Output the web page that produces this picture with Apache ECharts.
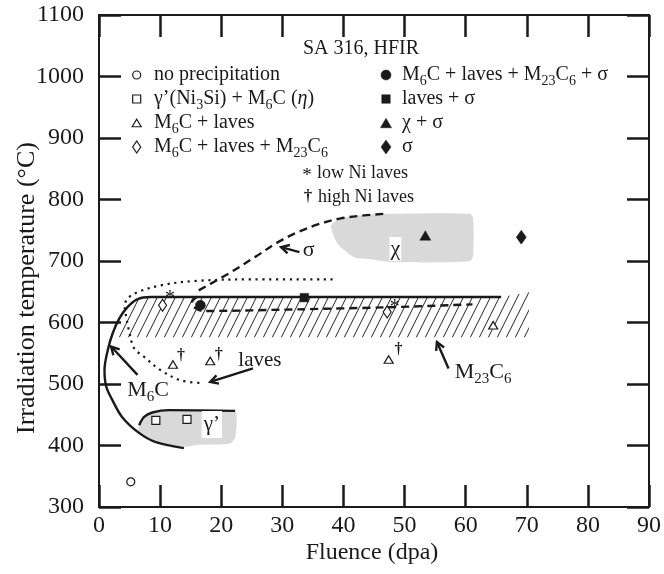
<!DOCTYPE html>
<html>
<head>
<meta charset="utf-8">
<script src="https://cdn.jsdelivr.net/npm/echarts@6/dist/echarts.min.js"></script>
<style>
  html, body { margin: 0; padding: 0; background: #fff; }
  #chart { width: 664px; height: 574px; }
</style>
</head>
<body>
<div id="chart"></div>
<script>
const FONT = "'Liberation Serif', 'Times New Roman', serif";
const INK = '#1a1a1a';

// axes
const fluenceRange = [0, 90];
const fluenceStep = 10;
const tempRange = [300, 1100];
const tempStep = 100;

// observed precipitate phases: [fluence (dpa), irradiation temperature (°C)]
const noPrecipitation = [[5.2, 341]];
const gammaPrimeM6C = [[9.3, 441], [14.4, 442.4]];
const m6cLaves = [[12.1, 531.7], [18.2, 537.5], [47.4, 539.8], [64.5, 595.5]];
const m6cLavesM23C6 = [[10.4, 628], [47.15, 617]];
const m6cLavesM23C6Sigma = [[16.6, 628]];
const lavesSigma = [[33.6, 640.4]];
const chiSigma = [[53.4, 741.6]];
const sigmaOnly = [[69.1, 738.8]];

// laves composition flags
const lowNiLaves = [[11.6, 644], [48.4, 629]];
const highNiLaves = [[13.4, 545.6], [19.6, 546.8], [49.0, 554.9]];

// phase boundaries
const m6cBoundary = [[13.9, 395.8], [9.3, 405.5], [6.6, 420.1], [3.8, 446.1], [2.2, 473.7],
  [1.17, 496.4], [0.9, 522.4], [1.43, 554.9], [2.24, 582.5], [3.33, 606.8], [4.63, 624.7],
  [6.25, 637.7], [8.47, 641.4], [65.8, 641.4]];
const gammaPrimeBoundary = [[6.57, 433.1], [7.39, 446.6], [8.73, 453.7], [11.46, 457.5], [22.27, 456.3]];
const sigmaBoundary = [[16.31, 652.3], [21.18, 679.4], [25.52, 706.3], [29.3, 730.7], [32.54, 746.9],
  [35.79, 759.4], [39.52, 769.2], [43.37, 774.1], [46.88, 776.8]];
const m23c6Boundary = [[16.04, 641.4], [15.22, 633.3], [15.5, 625.2], [17.12, 618.7], [32.54, 621.4],
  [47.15, 624.7], [61.11, 629.5]];
const lavesBoundary = [[38.23, 670.1], [25.24, 670.1], [15.5, 667.4], [10.1, 660.4], [6.25, 649],
  [4.63, 638.5], [4.22, 625.6], [4.43, 610.6], [4.93, 585.7], [5.73, 558.4], [7.39, 544],
  [10.1, 522.4], [13.34, 506.2], [17.12, 501.3]];

// shaded fields
const chiField = [[38.23, 761.5], [39.57, 768.7], [42.28, 774.0], [47.96, 776.8], [60.67, 776.8],
  [61.22, 768.7], [61.22, 709.1], [60.67, 699.4], [48.24, 698.2], [43.91, 703.7], [41.75, 706.3],
  [39.04, 728.1], [37.95, 755.2]];
const gammaPrimeField = [[6.57, 433.1], [7.39, 446.6], [8.73, 453.7], [11.46, 457.5], [22.27, 456.3],
  [22.53, 440.3], [22.27, 413.2], [21.46, 403.4], [16.31, 401.3], [13.88, 398.1], [9.33, 405.5],
  [6.57, 420.1]];
const m23c6Field = [[8.47, 641.4], [65.8, 641.4], [70.36, 649], [70.36, 576], [2.27, 576],
  [2.24, 582.5], [3.33, 606.8], [4.63, 624.7], [6.25, 637.7]];

// callout arrows: [tail fluence, tail temp, head fluence, head temp]
const callouts = [
  [32.8, 714.4, 29.8, 722.6],
  [25.2, 525.5, 18.2, 503.4],
  [6.3, 514.8, 1.98, 560.9],
  [57.2, 525.2, 55.3, 568.4]
];

// field label anchors
const sigmaLabelAt = [34.3, 717];
const lavesLabelAt = [22.8, 538.6];
const m6cLabelAt = [4.63, 490.3];
const m23c6LabelAt = [58.2, 519.6];
const chiLabelAt = [48.5, 719.6];
const gammaPrimeLabelAt = [18.47, 434.1];

// ---------- text helpers ----------
function richStyles(size) {
  return {
    n: { fontFamily: FONT, fontSize: size, fill: INK },
    sub: { fontFamily: FONT, fontSize: Math.round(size * 0.7), fill: INK, padding: [Math.round(size * 0.65), 0, 0, 0] },
    it: { fontFamily: FONT, fontSize: size, fontStyle: 'italic', fill: INK }
  };
}

function hatchPattern() {
  const c = document.createElement('canvas');
  c.width = 9; c.height = 18;
  const g = c.getContext('2d');
  g.strokeStyle = '#262626';
  g.lineWidth = 1;
  for (let k = -1; k <= 1; k++) {
    g.beginPath();
    g.moveTo(k * 9, 18);
    g.lineTo(k * 9 + 9, 0);
    g.stroke();
  }
  return c;
}

function fieldSeries(points, fill, smooth, z) {
  return {
    type: 'custom', silent: true, z: z, data: points,
    renderItem: function (params, api) {
      if (params.dataIndex !== 0) return null;
      return {
        type: 'polygon',
        shape: { points: points.map(function (p) { return api.coord(p); }), smooth: smooth },
        style: { fill: fill, stroke: null }
      };
    }
  };
}

function curveSeries(points, type, width, smooth) {
  return {
    type: 'line', data: points, symbol: 'none', smooth: smooth, silent: true, z: 4,
    lineStyle: { color: INK, width: width, type: type, cap: 'butt' }
  };
}

function markerSeries(points, symbol, size, filled) {
  return {
    type: 'scatter', data: points, symbol: symbol, symbolSize: size, silent: true, z: 6,
    itemStyle: filled
      ? { color: INK, borderColor: INK, borderWidth: 0.5, opacity: 1 }
      : { color: '#fff', borderColor: INK, borderWidth: 1.2, opacity: 1 }
  };
}

function textSeries(at, text, size, align, extra) {
  return {
    type: 'custom', silent: true, z: 7, data: [at],
    renderItem: function (params, api) {
      const p = api.coord(at);
      return {
        type: 'text', x: p[0], y: p[1],
        style: Object.assign({
          text: text, rich: richStyles(size), fontFamily: FONT, fontSize: size,
          fill: INK, align: align, verticalAlign: 'middle'
        }, extra || {})
      };
    }
  };
}

function flagSeries(points, glyph, size, dx, dy, weight) {
  return {
    type: 'custom', silent: true, z: 7, data: points,
    renderItem: function (params, api) {
      const p = api.coord([api.value(0), api.value(1)]);
      return {
        type: 'text', x: p[0] + dx, y: p[1] + dy,
        style: { text: glyph, fontFamily: FONT, fontSize: size, fontWeight: weight,
          fill: INK, align: 'center', verticalAlign: 'middle' }
      };
    }
  };
}

const arrowSeries = {
  type: 'custom', silent: true, z: 5, data: callouts,
  encode: { x: [0, 2], y: [1, 3] },
  renderItem: function (params, api) {
    const a = api.coord([api.value(0), api.value(1)]);
    const b = api.coord([api.value(2), api.value(3)]);
    const ang = Math.atan2(b[1] - a[1], b[0] - a[0]);
    const L = 9, spread = 0.5;
    const h1 = [b[0] - L * Math.cos(ang - spread), b[1] - L * Math.sin(ang - spread)];
    const h2 = [b[0] - L * Math.cos(ang + spread), b[1] - L * Math.sin(ang + spread)];
    return {
      type: 'group',
      children: [
        { type: 'line', shape: { x1: a[0], y1: a[1], x2: b[0], y2: b[1] },
          style: { stroke: INK, lineWidth: 2.4 } },
        { type: 'polyline', shape: { points: [h1, b, h2] },
          style: { stroke: INK, lineWidth: 2.4, fill: null, lineJoin: 'miter' } }
      ]
    };
  }
};

// ---------- legend (drawn as graphics) ----------
function legendSymbol(kind, filled, cx, cy, w, h) {
  const style = filled
    ? { fill: INK, stroke: INK, lineWidth: 0.5 }
    : { fill: '#fff', stroke: INK, lineWidth: 1.2 };
  if (kind === 'circle') return { type: 'circle', shape: { cx: cx, cy: cy, r: w / 2 }, style: style };
  if (kind === 'rect') return { type: 'rect', shape: { x: cx - w / 2, y: cy - h / 2, width: w, height: h }, style: style };
  if (kind === 'triangle') return { type: 'polygon', shape: { points: [[cx, cy - h / 2], [cx + w / 2, cy + h / 2], [cx - w / 2, cy + h / 2]] }, style: style };
  return { type: 'polygon', shape: { points: [[cx, cy - h / 2], [cx + w / 2, cy], [cx, cy + h / 2], [cx - w / 2, cy]] }, style: style };
}

function legendText(x, y, text, size) {
  return {
    type: 'text', x: x, y: y,
    style: { text: text, rich: richStyles(size), fontFamily: FONT, fontSize: size, fill: INK,
      align: 'left', verticalAlign: 'middle' }
  };
}

const legendRows = [75, 99, 123, 147];
const legendLeft = [
  ['circle', false, 8, 8, 'no precipitation'],
  ['rect', false, 8, 8, 'γ’(Ni{sub|3}Si) + M{sub|6}C ({it|η})'],
  ['triangle', false, 9, 7.5, 'M{sub|6}C + laves'],
  ['diamond', false, 8, 12, 'M{sub|6}C + laves + M{sub|23}C{sub|6}']
];
const legendRight = [
  ['circle', true, 10, 10, 'M{sub|6}C + laves + M{sub|23}C{sub|6} + σ'],
  ['rect', true, 8.5, 8.5, 'laves + σ'],
  ['triangle', true, 11, 9.5, 'χ + σ'],
  ['diamond', true, 10, 14, 'σ']
];

const graphics = [];
legendLeft.forEach(function (r, i) {
  graphics.push(legendSymbol(r[0], r[1], 136.7, legendRows[i], r[2], r[3]));
  graphics.push(legendText(154, legendRows[i], r[4], 20));
});
legendRight.forEach(function (r, i) {
  graphics.push(legendSymbol(r[0], r[1], 386, legendRows[i], r[2], r[3]));
  graphics.push(legendText(402, legendRows[i], r[4], 20));
});
graphics.push({ type: 'text', x: 307, y: 176, style: { text: '*', fontFamily: FONT, fontSize: 19, fill: INK, align: 'center', verticalAlign: 'middle' } });
graphics.push(legendText(317, 173, 'low Ni laves', 18));
graphics.push({ type: 'text', x: 308, y: 197, style: { text: '†', fontFamily: FONT, fontSize: 17, fontWeight: 'bold', fill: INK, align: 'center', verticalAlign: 'middle' } });
graphics.push(legendText(318, 197, 'high Ni laves', 18));

// title and axis names
graphics.push({ type: 'text', x: 361, y: 49, style: { text: 'SA 316, HFIR', fontFamily: FONT, fontSize: 20, fill: INK, align: 'center', verticalAlign: 'middle' } });
graphics.push({ type: 'text', x: 372, y: 553, style: { text: 'Fluence (dpa)', fontFamily: FONT, fontSize: 24, fill: INK, align: 'center', verticalAlign: 'middle' } });
graphics.push({ type: 'text', x: 27, y: 288, rotation: Math.PI / 2, style: { text: 'Irradiation temperature (°C)', fontFamily: FONT, fontSize: 26, fill: INK, align: 'center', verticalAlign: 'middle' } });

// ---------- axes ----------
function axis(extra, labelOpts) {
  return Object.assign({
    type: 'value',
    axisLine: { show: true, onZero: false, lineStyle: { color: INK, width: 2 } },
    axisTick: { show: true, inside: true, length: 22, lineStyle: { color: INK, width: 2.5 } },
    splitLine: { show: false },
    axisLabel: Object.assign({ fontFamily: FONT, fontSize: 24, color: INK,
      formatter: function (v) { return String(v); } }, labelOpts)
  }, extra);
}

const option = {
  animation: false,
  textStyle: { fontFamily: FONT },
  grid: { left: 99, right: 10, top: 15, bottom: 67 },
  xAxis: [
    axis({ min: fluenceRange[0], max: fluenceRange[1], interval: fluenceStep, position: 'bottom' }, { margin: 7 }),
    axis({ min: fluenceRange[0], max: fluenceRange[1], interval: fluenceStep, position: 'top' }, { show: false })
  ],
  yAxis: [
    axis({ min: tempRange[0], max: tempRange[1], interval: tempStep, position: 'left' }, { margin: 15 }),
    axis({ min: tempRange[0], max: tempRange[1], interval: tempStep, position: 'right' }, { show: false })
  ],
  graphic: graphics,
  series: [
    fieldSeries(m23c6Field, { image: hatchPattern(), repeat: 'repeat' }, 0, 1),
    fieldSeries(chiField, '#d9d9d9', 0.25, 2),
    fieldSeries(gammaPrimeField, '#d9d9d9', 0.25, 2),
    curveSeries(m6cBoundary, 'solid', 2.4, 0.35),
    curveSeries(gammaPrimeBoundary, 'solid', 2.4, 0.35),
    curveSeries(sigmaBoundary, [8, 5], 2.4, 0.35),
    curveSeries(m23c6Boundary, [8, 5], 2.4, 0.3),
    curveSeries(lavesBoundary, [2.2, 4.6], 2.2, 0.35),
    arrowSeries,
    markerSeries(noPrecipitation, 'circle', 8, false),
    markerSeries(gammaPrimeM6C, 'rect', 8, false),
    markerSeries(m6cLaves, 'triangle', [9, 7.5], false),
    markerSeries(m6cLavesM23C6, 'diamond', [8, 12], false),
    markerSeries(m6cLavesM23C6Sigma, 'circle', 10, true),
    markerSeries(lavesSigma, 'rect', 8.5, true),
    markerSeries(chiSigma, 'triangle', [11, 9.5], true),
    markerSeries(sigmaOnly, 'diamond', [10, 14], true),
    flagSeries(lowNiLaves, '*', 20, 0, 3, 'normal'),
    flagSeries(highNiLaves, '†', 16, 0, 0, 'bold'),
    textSeries(sigmaLabelAt, 'σ', 22, 'center'),
    textSeries(lavesLabelAt, 'laves', 21, 'left'),
    textSeries(m6cLabelAt, 'M{sub|6}C', 22, 'left'),
    textSeries(m23c6LabelAt, 'M{sub|23}C{sub|6}', 22, 'left'),
    textSeries(chiLabelAt, 'χ', 22, 'center', { backgroundColor: '#fff', padding: [1, 1, 1, 1] }),
    textSeries(gammaPrimeLabelAt, 'γ’', 21, 'center', { backgroundColor: '#fff', padding: [3, 2, 3, 2] })
  ]
};

const chart = echarts.init(document.getElementById('chart'), null, { renderer: 'canvas' });
chart.setOption(option);
</script>
</body>
</html>
